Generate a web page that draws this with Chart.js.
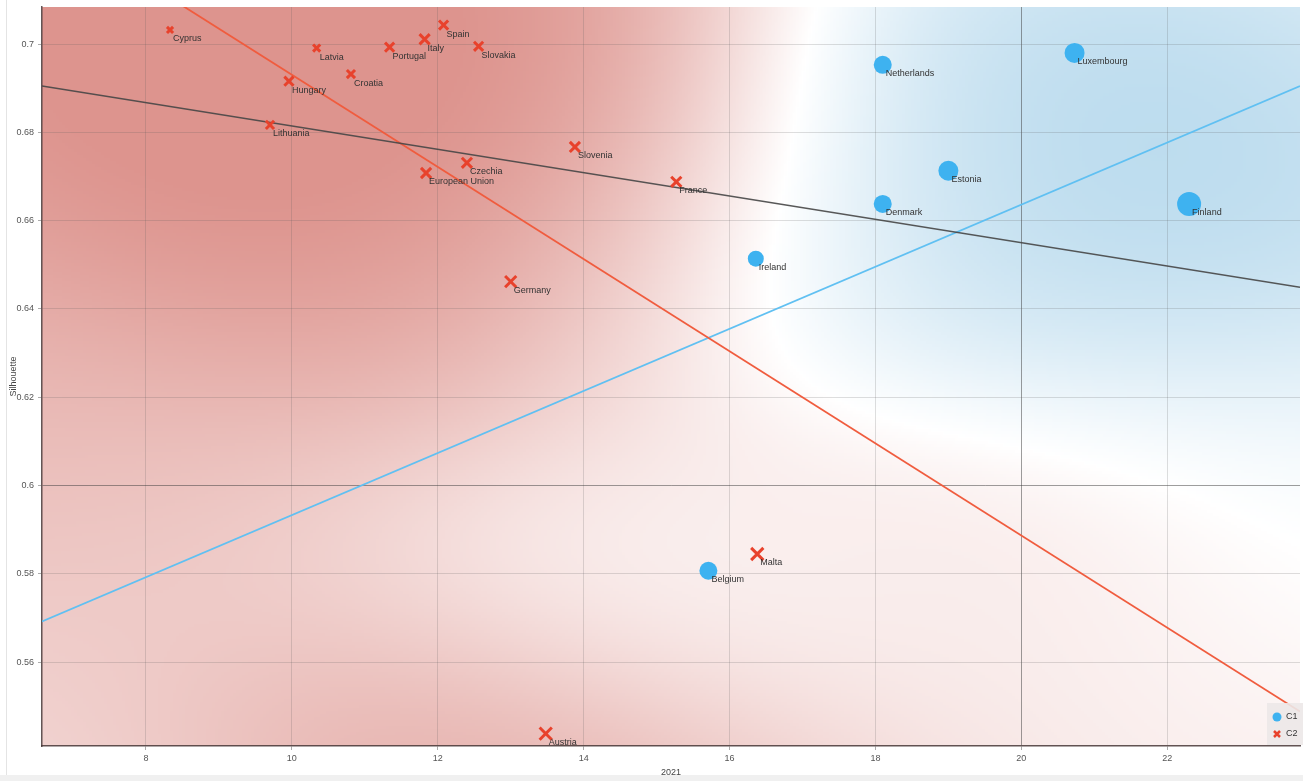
<!DOCTYPE html>
<html>
<head>
<meta charset="utf-8">
<title>Silhouette vs 2021</title>
<script src="https://cdn.jsdelivr.net/npm/chart.js@4"></script>
<style>
  html, body { margin: 0; padding: 0; background: #f0f0f0; overflow: hidden; }
  .panel { position: absolute; left: 0; top: 0; width: 1303px; height: 775px; background: #fff; }
  .edge { position: absolute; left: 6px; top: 0; width: 1px; height: 775px; background: #e4e4e4; }
  .wrap { position: absolute; left: 0; top: 0; width: 1303px; height: 781px; }
</style>
</head>
<body>
<div class="panel"></div>
<div class="edge"></div>
<div class="wrap"><canvas id="chart"></canvas></div>
<script>
// cluster C1
const c1Names = ['Netherlands', 'Luxembourg', 'Estonia', 'Denmark', 'Finland', 'Ireland', 'Belgium'];
const c1X = [18.10, 20.73, 19.00, 18.10, 22.30, 16.36, 15.71];
const c1Y = [0.6953, 0.6980, 0.6713, 0.6638, 0.6638, 0.6514, 0.5807];
const c1Size = [9, 10, 10, 9, 12, 8, 9];

// cluster C2
const c2Names = ['Cyprus', 'Latvia', 'Portugal', 'Italy', 'Spain', 'Slovakia', 'Croatia', 'Hungary',
    'Lithuania', 'Slovenia', 'Czechia', 'European Union', 'France', 'Germany', 'Malta', 'Austria'];
const c2X = [8.33, 10.34, 11.34, 11.82, 12.08, 12.56, 10.81, 9.96, 9.70, 13.88, 12.40, 11.84, 15.27, 13.00, 16.38, 13.48];
const c2Y = [0.7032, 0.6991, 0.6993, 0.7011, 0.7043, 0.6995, 0.6932, 0.6916, 0.6817, 0.6767, 0.6731, 0.6708, 0.6688, 0.6462, 0.5845, 0.5438];
const c2Size = [6, 7, 9, 10, 9, 9, 8, 9, 8, 10, 10, 10, 10, 11, 12, 12];

// fitted lines, values at the two ends of the x range
const fitX = [6.575, 23.82];
const fitAll = [0.6905, 0.6449];
const fitC2 = [0.7288, 0.5488];
const fitC1 = [0.5692, 0.6905];

// axes
const xRange = [6.575, 23.82];
const yRange = [0.541, 0.7084];
const xTicks = [8, 10, 12, 14, 16, 18, 20, 22];
const yTicks = [0.56, 0.58, 0.6, 0.62, 0.64, 0.66, 0.68, 0.7];

const BLUE = 'rgb(62,178,240)';
const RED = 'rgb(232,66,44)';
const REGION_BLUE = [160, 205, 231];
const REGION_RED = [221, 148, 142];
const FONT = '"Liberation Sans", Arial, sans-serif';

const pts = (xs, ys) => xs.map((v, i) => ({ x: v, y: ys[i] }));

// color regions behind the grid: kernel mix of the two clusters,
// distances measured in normalized (0..1) plot coordinates
const regionPlugin = {
    id: 'regions',
    beforeDraw(chart) {
        const { ctx, chartArea: a, scales: { x, y } } = chart;
        const W = a.right - a.left, H = a.bottom - a.top;
        const cell = 3;
        const cols = Math.ceil(W / cell);
        const rows = Math.ceil(H / cell);
        const off = document.createElement('canvas');
        off.width = cols;
        off.height = rows;
        const octx = off.getContext('2d');
        const img = octx.createImageData(cols, rows);
        const centers = [];
        const norm = (vx, vy, cls) => [(x.getPixelForValue(vx) - a.left) / W, (y.getPixelForValue(vy) - a.top) / H, cls];
        c1X.forEach((v, i) => centers.push(norm(v, c1Y[i], 1)));
        c2X.forEach((v, i) => centers.push(norm(v, c2Y[i], -1)));
        const narrow = 0.045, wide = 0.32, broad = 0.12, floor = 0.3;
        // C2 is the larger cluster, give it a small prior
        const prior = 0.06;
        for (let r = 0; r < rows; r++) {
            const v = (r + 0.5) * cell / H;
            for (let c = 0; c < cols; c++) {
                const u = (c + 0.5) * cell / W;
                let wb = 0, wr = prior;
                for (const p of centers) {
                    const du = u - p[0], dv = v - p[1];
                    const d2 = du * du + dv * dv;
                    const w = Math.exp(-d2 / narrow) + broad * Math.exp(-d2 / wide);
                    if (p[2] > 0) wb += w; else wr += w;
                }
                const s = (wb - wr) / (wb + wr + floor);
                const t = Math.min(1, Math.abs(s) * 1.15);
                const col = s > 0 ? REGION_BLUE : REGION_RED;
                const k = (r * cols + c) * 4;
                img.data[k] = 255 + (col[0] - 255) * t;
                img.data[k + 1] = 255 + (col[1] - 255) * t;
                img.data[k + 2] = 255 + (col[2] - 255) * t;
                img.data[k + 3] = 255;
            }
        }
        octx.putImageData(img, 0, 0);
        ctx.save();
        ctx.beginPath();
        ctx.rect(a.left, a.top, W, H);
        ctx.clip();
        ctx.imageSmoothingEnabled = true;
        ctx.drawImage(off, a.left, a.top, cols * cell, rows * cell);
        ctx.restore();
    }
};

// country names next to the markers
const labelPlugin = {
    id: 'pointLabels',
    afterDatasetsDraw(chart) {
        const ctx = chart.ctx;
        ctx.save();
        ctx.font = '9px ' + FONT;
        ctx.fillStyle = '#333';
        ctx.textBaseline = 'middle';
        ctx.textAlign = 'left';
        [[0, c1Names], [1, c2Names]].forEach(([di, names]) => {
            chart.getDatasetMeta(di).data.forEach((el, i) => {
                ctx.fillText(names[i], el.x + 3, el.y + 9);
            });
        });
        ctx.restore();
    }
};

// small legend box in the lower right corner
const legendPlugin = {
    id: 'cornerLegend',
    afterDraw(chart) {
        const { ctx, chartArea: a } = chart;
        const x0 = a.right - 33, y0 = a.bottom - 43;
        ctx.save();
        ctx.fillStyle = 'rgba(236,232,232,0.9)';
        ctx.fillRect(x0, y0, 40, 42);
        ctx.font = '9px ' + FONT;
        ctx.textBaseline = 'middle';
        ctx.fillStyle = BLUE;
        ctx.beginPath();
        ctx.arc(x0 + 10, y0 + 14, 4.5, 0, Math.PI * 2);
        ctx.fill();
        ctx.strokeStyle = RED;
        ctx.lineWidth = 2.5;
        ctx.beginPath();
        ctx.moveTo(x0 + 7, y0 + 28); ctx.lineTo(x0 + 13, y0 + 34);
        ctx.moveTo(x0 + 13, y0 + 28); ctx.lineTo(x0 + 7, y0 + 34);
        ctx.stroke();
        ctx.fillStyle = '#333';
        ctx.fillText('C1', x0 + 19, y0 + 14);
        ctx.fillText('C2', x0 + 19, y0 + 31);
        ctx.restore();
    }
};

const gridColor = (strong) => (c) =>
    c.tick && Math.abs(c.tick.value - strong) < 1e-9 ? 'rgba(60,60,60,0.5)' : 'rgba(90,90,90,0.2)';

new Chart(document.getElementById('chart'), {
    type: 'scatter',
    data: {
        datasets: [
            {
                label: 'C1',
                data: pts(c1X, c1Y),
                pointStyle: 'circle',
                backgroundColor: BLUE,
                borderWidth: 0,
                pointRadius: c1Size,
                order: 0
            },
            {
                label: 'C2',
                data: pts(c2X, c2Y),
                pointStyle: 'crossRot',
                borderColor: RED,
                borderWidth: 3,
                pointRadius: c2Size.map(v => v * 0.72),
                order: 0
            },
            {
                type: 'line',
                label: 'all',
                data: pts(fitX, fitAll),
                borderColor: 'rgba(70,70,70,0.9)',
                borderWidth: 1.6,
                pointRadius: 0,
                order: 2
            },
            {
                type: 'line',
                label: 'C2 fit',
                data: pts(fitX, fitC2),
                borderColor: 'rgb(240,92,62)',
                borderWidth: 1.8,
                pointRadius: 0,
                order: 2
            },
            {
                type: 'line',
                label: 'C1 fit',
                data: pts(fitX, fitC1),
                borderColor: 'rgb(96,192,242)',
                borderWidth: 1.8,
                pointRadius: 0,
                order: 2
            }
        ]
    },
    options: {
        responsive: true,
        maintainAspectRatio: false,
        animation: false,
        events: [],
        layout: { autoPadding: false, padding: { top: 7, right: 3, left: 0, bottom: 0 } },
        plugins: {
            legend: { display: false },
            tooltip: { enabled: false }
        },
        scales: {
            x: {
                type: 'linear',
                min: xRange[0],
                max: xRange[1],
                afterBuildTicks: s => { s.ticks = xTicks.map(v => ({ value: v })); },
                afterFit: s => { s.height = 35; s.paddingLeft = 0; s.paddingRight = 0; },
                ticks: {
                    color: '#555',
                    font: { size: 9, family: FONT },
                    padding: 3,
                    callback: v => String(v)
                },
                grid: { color: gridColor(20), tickLength: 4, tickColor: 'rgba(90,90,90,0.5)' },
                border: { color: 'rgba(70,55,55,0.85)', width: 1.5 },
                title: {
                    display: true,
                    text: '2021',
                    color: '#444',
                    font: { size: 9, family: FONT },
                    padding: { top: 0, bottom: 3 }
                }
            },
            y: {
                type: 'linear',
                min: yRange[0],
                max: yRange[1],
                afterBuildTicks: s => { s.ticks = yTicks.map(v => ({ value: v })); },
                afterFit: s => { s.width = 42; s.paddingTop = 0; s.paddingBottom = 0; },
                ticks: {
                    color: '#555',
                    font: { size: 9, family: FONT },
                    padding: 4,
                    callback: v => String(+v.toFixed(2))
                },
                grid: { color: gridColor(0.6), tickLength: 4, tickColor: 'rgba(90,90,90,0.5)' },
                border: { color: 'rgba(70,55,55,0.85)', width: 1.5 },
                title: {
                    display: true,
                    text: 'Silhouette',
                    color: '#444',
                    font: { size: 9, family: FONT },
                    padding: { top: 8, bottom: 0 }
                }
            }
        }
    },
    plugins: [regionPlugin, labelPlugin, legendPlugin]
});
</script>
</body>
</html>
